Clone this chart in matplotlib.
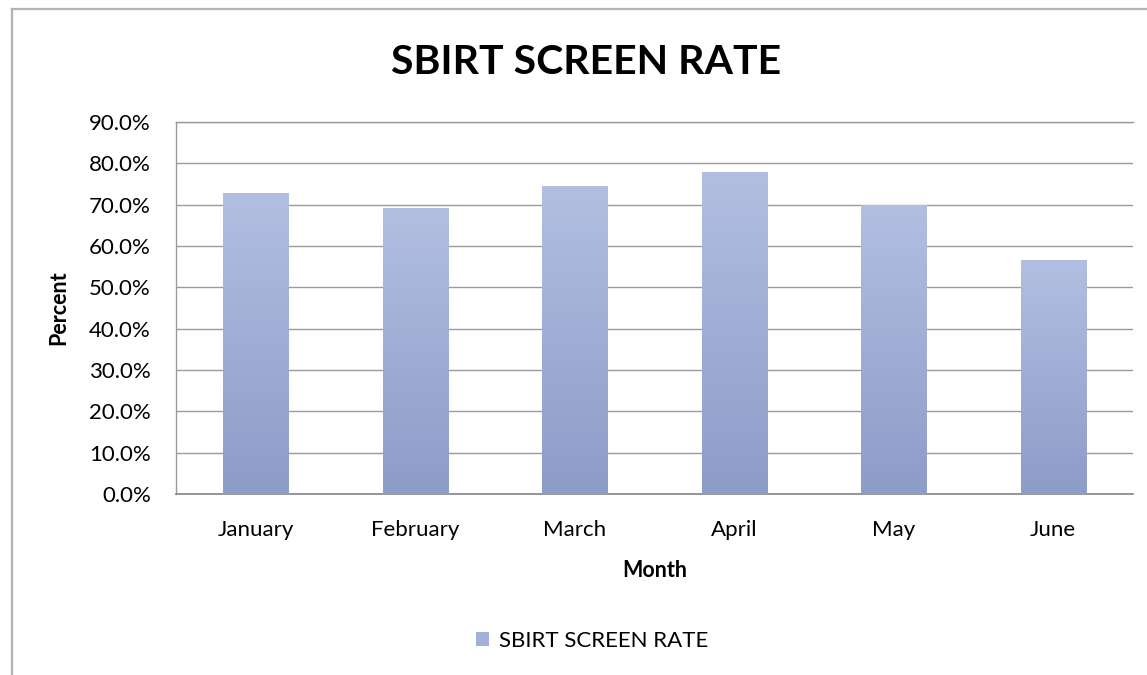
import numpy as np
import matplotlib
matplotlib.use("Agg")
import matplotlib.pyplot as plt
from matplotlib.colors import LinearSegmentedColormap
from matplotlib.lines import Line2D
from matplotlib.patches import Rectangle

months = ["January", "February", "March", "April", "May", "June"]
screen_rate = [0.726, 0.690, 0.745, 0.779, 0.699, 0.566]
y_ticks = [0.0, 0.1, 0.2, 0.3, 0.4, 0.5, 0.6, 0.7, 0.8, 0.9]
y_tick_labels = [f"{v * 100:.1f}%" for v in y_ticks]

plt.rcParams["font.family"] = ["Lato", "DejaVu Sans"]

W, H = 1147, 675
fig = plt.figure(figsize=(W / 100, H / 100), dpi=100)

# chart frame (partly off the canvas at right and bottom)
frame_col = "#b3b3b3"
fig.add_artist(Line2D([11.5 / W, 11.5 / W], [0, 1 - 9 / H], color=frame_col, lw=1.6,
                      transform=fig.transFigure))
fig.add_artist(Line2D([11.5 / W, 1.0], [1 - 9 / H, 1 - 9 / H], color=frame_col, lw=1.6,
                      transform=fig.transFigure))

left, right, top, bottom = 176, 1133, 122, 494
ax = fig.add_axes([left / W, 1 - bottom / H, (right - left) / W, (bottom - top) / H])

x = np.arange(len(months))
bar_w = 0.41
bars = ax.bar(x, screen_rate, width=bar_w, color="none", edgecolor="none", zorder=3,
              label="SBIRT SCREEN RATE")

cmap = LinearSegmentedColormap.from_list("barfill", ["#8d9cc8", "#b2bfe2"])
grad = np.linspace(0, 1, 256).reshape(-1, 1)
for b in bars:
    x0, y0 = b.get_x(), b.get_y()
    ax.imshow(grad, cmap=cmap, origin="lower", aspect="auto", zorder=3,
              extent=(x0, x0 + b.get_width(), y0, y0 + b.get_height()), interpolation="bilinear")

ax.set_xlim(-0.5, len(months) - 0.5)
ax.set_ylim(0, 0.9)
ax.set_yticks(y_ticks)
ax.set_yticklabels(y_tick_labels)
ax.set_xticks(x)
ax.set_xticklabels(months)

grid_col = "#9a9a9a"
ax.yaxis.grid(True, color=grid_col, lw=1.0, zorder=1)
ax.set_axisbelow(True)
ax.spines["right"].set_visible(False)
ax.spines["top"].set_color(grid_col)
ax.spines["top"].set_linewidth(1.0)
ax.spines["left"].set_color(grid_col)
ax.spines["left"].set_linewidth(1.0)
ax.spines["bottom"].set_color("#858585")
ax.spines["bottom"].set_linewidth(1.2)

ax.tick_params(axis="y", length=0, pad=18, labelsize=16, labelcolor="black")
ax.tick_params(axis="x", length=0, pad=19, labelsize=16, labelcolor="black")

ax.set_xlabel("Month", fontsize=15.5, fontweight="bold", labelpad=14)
ax.set_ylabel("Percent", fontsize=15.5, fontweight="bold", labelpad=14)

fig.text(586 / W, 1 - 62 / H, "SBIRT SCREEN RATE", ha="center", va="center",
         fontsize=29.5, fontweight="bold")

# legend
handle = Rectangle((0, 0), 1, 1, facecolor="#a3b0d8", edgecolor="none")
fig.legend([handle], ["SBIRT SCREEN RATE"], loc="center", bbox_to_anchor=(592 / W, 1 - 641 / H),
           frameon=False, fontsize=16, handlelength=0.6, handleheight=0.6, handletextpad=0.45)

fig.savefig("out.png", dpi=100)
